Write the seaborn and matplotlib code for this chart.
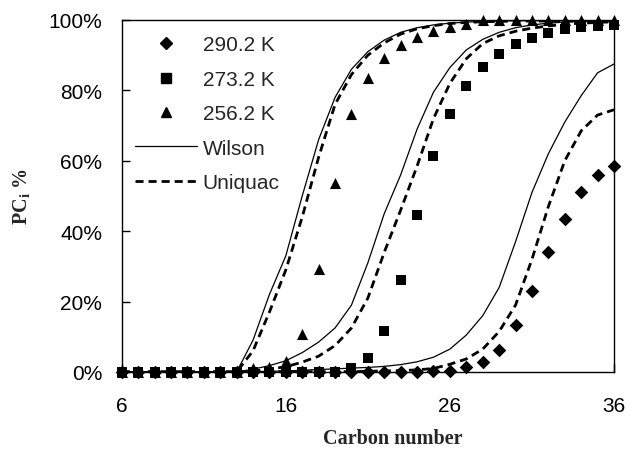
import matplotlib
matplotlib.use("Agg")
import matplotlib.pyplot as plt
import seaborn as sns
from matplotlib.lines import Line2D
from matplotlib.ticker import PercentFormatter

# ---- data ----
carbon = [6, 7, 8, 9, 10, 11, 12, 13, 14, 15, 16, 17, 18, 19, 20, 21,
          22, 23, 24, 25, 26, 27, 28, 29, 30, 31, 32, 33, 34, 35, 36]

exp_290 = [0, 0, 0, 0, 0, 0, 0, 0, 0, 0, 0, 0, 0, 0, 0, 0, 0, 0, 0,
           0.2, 0.4, 1.3, 2.8, 6.3, 13.4, 23, 34, 43.5, 51, 56, 58.4]
exp_273 = [0, 0, 0, 0, 0, 0, 0, 0, 0, 0, 0, 0, 0, 0,
           1.2, 4, 11.7, 26.2, 44.7, 61.4, 73.3, 81.3, 86.6, 90.2, 93.2,
           94.9, 96.3, 97.4, 97.9, 98.2, 98.5]
exp_256 = [0, 0, 0, 0, 0, 0, 0, 0,
           1.0, 1.5, 3, 10.8, 29.3, 53.7, 73.3, 83.5, 89.1, 92.9, 95.1,
           97, 97.9, 98.9, 100, 100, 100, 100, 100, 100, 100, 100, 100]

wilson_256 = [0, 0, 0, 0, 0, 0, 0, 0,
              9, 22, 33, 50, 66, 78, 86, 91, 94.3, 96.5, 97.8, 98.6, 99.1,
              99.4, 99.6, 99.7, 99.8, 99.8, 99.8, 99.8, 99.8, 99.8, 99.8]
uniquac_256 = [0, 0, 0, 0, 0, 0, 0, 0,
               6, 17, 29, 44, 61, 76, 84.5, 90, 93.5, 96, 97.5, 98.4, 99,
               99.3, 99.5, 99.6, 99.7, 99.7, 99.7, 99.7, 99.7, 99.7, 99.7]
wilson_273 = [0, 0, 0, 0, 0, 0, 0, 0,
              0.8, 1.8, 3.2, 5.5, 8.5, 12.5, 19, 31, 45, 56, 69, 79.5, 86.5,
              91.5, 94.5, 96.5, 97.8, 98.6, 99.1, 99.4, 99.6, 99.7, 99.8]
uniquac_273 = [0, 0, 0, 0, 0, 0, 0, 0,
               0.3, 0.8, 1.5, 2.8, 4.5, 7.5, 12.5, 21, 34, 46, 58.5, 72, 82,
               89, 93.3, 95.5, 96.8, 97.7, 98.3, 98.8, 99.1, 99.3, 99.5]
wilson_290 = [0, 0, 0, 0, 0, 0, 0, 0,
              0.1, 0.2, 0.3, 0.5, 0.7, 0.9, 1.1, 1.3, 1.6, 2.1, 2.9, 4.2,
              6.5, 10.5, 16, 24, 37, 51, 62, 71, 78.5, 85, 87.5]
uniquac_290 = [0, 0, 0, 0, 0, 0, 0, 0,
               0.1, 0.1, 0.1, 0.1, 0.1, 0.1, 0.1, 0.2, 0.3, 0.4, 0.6, 1,
               2.2, 3.7, 6.5, 11.5, 19, 32, 47, 60, 68.5, 73, 74.5]

series_labels = ["290.2 K", "273.2 K", "256.2 K"]
model_labels = ["Wilson", "Uniquac"]
x_ticks = [6, 16, 26, 36]
y_ticks = [0, 20, 40, 60, 80, 100]

# ---- style ----
sns.set_style("white")
plt.rcParams["font.family"] = ["Liberation Sans", "DejaVu Sans"]
plt.rcParams["mathtext.fontset"] = "custom"
plt.rcParams["mathtext.rm"] = "Liberation Serif:bold"
plt.rcParams["mathtext.it"] = "Liberation Serif:bold"

fig = plt.figure(figsize=(6.3, 4.52), dpi=100)
ax = fig.add_axes([121.7 / 630, 1 - 373 / 452, 492.3 / 630, 352 / 452])

dash = (0, (2.9, 1.8))
for w, u in [(wilson_256, uniquac_256), (wilson_273, uniquac_273), (wilson_290, uniquac_290)]:
    sns.lineplot(x=carbon, y=w, ax=ax, color="black", linewidth=0.9,
                 estimator=None, legend=False)
    sns.lineplot(x=carbon, y=u, ax=ax, color="black", linewidth=2.0,
                 linestyle=dash, estimator=None, legend=False)

marker_specs = [(exp_290, "D", 48), (exp_273, "s", 56), (exp_256, "^", 64)]
for vals, mk, s in marker_specs:
    sns.scatterplot(x=carbon, y=vals, ax=ax, marker=mk, s=s, color="black",
                    edgecolor="black", linewidth=0, clip_on=False, zorder=3,
                    legend=False)

ax.set_xlim(6, 36)
ax.set_ylim(0, 100)
ax.set_xticks(x_ticks)
ax.set_yticks(y_ticks)
ax.yaxis.set_major_formatter(PercentFormatter(decimals=0))
ax.tick_params(axis="both", direction="in", length=6, width=1, color="black",
               labelsize=15, labelcolor="black")
ax.tick_params(axis="y", pad=14, left=True)
ax.tick_params(axis="x", pad=17, bottom=True)
for sp in ax.spines.values():
    sp.set_visible(True)
    sp.set_color("black")
    sp.set_linewidth(1.0)

ax.set_xlabel("Carbon number", family="Liberation Serif", fontweight="bold",
              fontsize=14.5)
ax.xaxis.set_label_coords(0.55, -0.16)
ax.set_ylabel("PC$_\\mathregular{i}$ %", family="Liberation Serif",
              fontweight="bold", fontsize=14.5)
ax.yaxis.set_label_coords(-0.182, 0.5)

handles = [
    Line2D([], [], marker="D", color="black", linestyle="none", markersize=6.5),
    Line2D([], [], marker="s", color="black", linestyle="none", markersize=7.3),
    Line2D([], [], marker="^", color="black", linestyle="none", markersize=7.8),
    Line2D([], [], color="black", linewidth=0.9),
    Line2D([], [], color="black", linewidth=2.0, linestyle=dash),
]
ax.legend(handles, series_labels + model_labels, loc="upper left",
          bbox_to_anchor=(0.027, 0.956), frameon=False, fontsize=15,
          handlelength=3.0, handletextpad=0.25, labelspacing=0.74,
          borderpad=0, borderaxespad=0)

fig.savefig("out.png", dpi=100)
